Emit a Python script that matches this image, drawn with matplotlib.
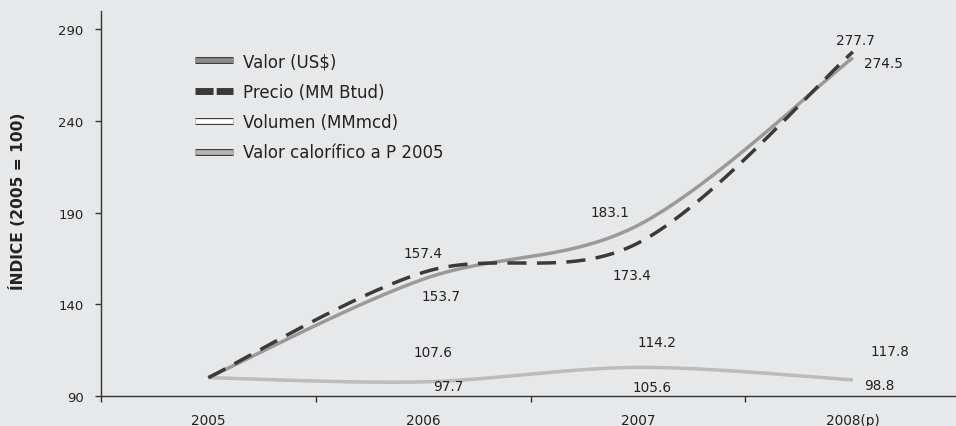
import numpy as np
import matplotlib
matplotlib.use("Agg")
import matplotlib.pyplot as plt
from matplotlib.lines import Line2D
import matplotlib.patheffects as pe

# ---- data ----
years = ["2005", "2006", "2007", "2008(p)"]
valor = [100, 153.7, 183.1, 274.5]
precio = [100, 157.4, 173.4, 277.7]
volumen = [100, 107.6, 114.2, 117.8]
calorifico = [100, 97.7, 105.6, 98.8]
yticks = [90, 140, 190, 240, 290]

labels_valor = ["153.7", "183.1", "274.5"]
labels_precio = ["157.4", "173.4", "277.7"]
labels_volumen = ["107.6", "114.2", "117.8"]
labels_calor = ["97.7", "105.6", "98.8"]

BG = "#e7e8ea"
TXT = "#222222"

def smooth(xs, ys, n=60):
    P = np.column_stack([xs, ys]).astype(float)
    m = len(P)
    out = []
    for i in range(m - 1):
        p0 = P[max(i - 1, 0)]
        p1 = P[i]
        p2 = P[i + 1]
        p3 = P[min(i + 2, m - 1)]
        c1 = p1 + (p2 - p0) / 6.0
        c2 = p2 - (p3 - p1) / 6.0
        t = np.linspace(0, 1, n)[:, None]
        seg = ((1 - t) ** 3) * p1 + 3 * ((1 - t) ** 2) * t * c1 + 3 * (1 - t) * t ** 2 * c2 + t ** 3 * p2
        out.append(seg if i == 0 else seg[1:])
    S = np.vstack(out)
    return S[:, 0], S[:, 1]

plt.rcParams['font.family'] = ['DejaVu Sans']
fig = plt.figure(figsize=(9.56, 4.27), dpi=100, facecolor=BG)
ax = fig.add_axes([0.1056, 0.0703, 0.8944, 0.9017])
ax.set_facecolor(BG)

x = np.arange(len(years))

# volumen line is not visible in the reference (drawn in background colour)
sx, sy = smooth(x, volumen)
ax.plot(sx, sy, color=BG, lw=2.2, zorder=1)
sx, sy = smooth(x, calorifico)
ax.plot(sx, sy, color="#bcbcbc", lw=2.5, solid_capstyle='butt', zorder=2)
sx, sy = smooth(x, valor)
ax.plot(sx, sy, color="#9a9a9a", lw=2.5, solid_capstyle='butt', zorder=3)
sx, sy = smooth(x, precio)
ax.plot(sx, sy, color="#3a3a3a", lw=2.5, dashes=(5.5, 3), dash_capstyle='butt', zorder=4)

px2pt = 0.72
def annot(vals, labs, offs):
    for i, (v, l, (dx, dy)) in enumerate(zip(vals, labs, offs)):
        ax.annotate(l, xy=(i + 1, v), xytext=(dx * px2pt, dy * px2pt), textcoords='offset points',
                    ha='center', va='center', fontsize=9.8, color=TXT, zorder=6)

annot(valor[1:], labels_valor, [(18, -17), (-28, 13), (31, -5)])
annot(precio[1:], labels_precio, [(0, 19), (-6, -32), (3, 12)])
annot(calorifico[1:], labels_calor, [(25, -4), (14, -20), (26, -5)])
annot(volumen[1:], labels_volumen, [(10, 12), (19, 10), (37, -6)])

ax.set_xlim(-0.5, 3.48)
ax.set_ylim(90, 300)
ax.set_yticks(yticks)
ax.set_xticks(x)
ax.set_xticklabels(years)
ax.set_xticks([-0.5, 0.5, 1.5, 2.5], minor=True)
ax.tick_params(axis='x', which='major', length=0, pad=12, labelsize=9.8, labelcolor=TXT)
ax.tick_params(axis='x', which='minor', length=4, width=1, color="#333333", direction='out')
ax.tick_params(axis='y', length=4, width=1, color="#333333", pad=8.6, labelsize=9.5, labelcolor=TXT)
for s in ['top', 'right']:
    ax.spines[s].set_visible(False)
for s in ['left', 'bottom']:
    ax.spines[s].set_color("#333333")
    ax.spines[s].set_linewidth(1)

fig.text(0.0178, 0.529, "ÍNDICE (2005 = 100)", rotation=90, ha='center', va='center',
         fontsize=11.2, fontweight='bold', color=TXT)

outline = "#3a3a3a"
h_valor = Line2D([], [], color="#8e8e8e", lw=3.4, solid_capstyle='butt',
                 path_effects=[pe.Stroke(linewidth=5, foreground=outline), pe.Normal()])
h_precio = Line2D([], [], color="#3a3a3a", lw=5, dashes=(2.6, 0.45), dash_capstyle='butt')
h_vol = Line2D([], [], color="#ffffff", lw=3.4, solid_capstyle='butt',
               path_effects=[pe.Stroke(linewidth=5, foreground=outline), pe.Normal()])
h_cal = Line2D([], [], color="#b4b4b4", lw=3.4, solid_capstyle='butt',
               path_effects=[pe.Stroke(linewidth=5, foreground=outline), pe.Normal()])
leg = fig.legend([h_valor, h_precio, h_vol, h_cal],
                 ["Valor (US$)", "Precio (MM Btud)", "Volumen (MMmcd)", "Valor calorífico a P 2005"],
                 loc='upper left', bbox_to_anchor=(195 / 956, 1 - 53 / 427), frameon=False,
                 fontsize=12, labelspacing=0.75, handlelength=2.3, handletextpad=0.6,
                 borderaxespad=0, borderpad=0)
for t in leg.get_texts():
    t.set_color(TXT)

fig.savefig("out.png", dpi=100, facecolor=BG)
